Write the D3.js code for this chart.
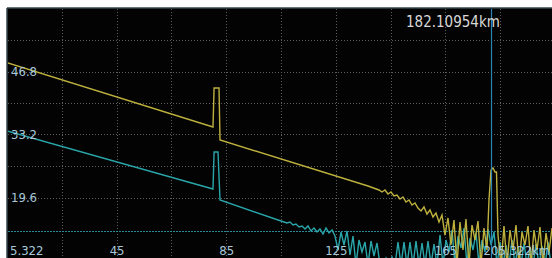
<!DOCTYPE html>
<html>
<head>
<meta charset="utf-8">
<script src="https://cdn.jsdelivr.net/npm/d3@7"></script>
<style>
  body { margin: 0; background: #fff; overflow: hidden; }
  text { font-family: "DejaVu Sans Condensed", "DejaVu Sans", sans-serif; }
</style>
</head>
<body>
<svg id="chart" width="552" height="258"></svg>
<script>
/// DATA (km on x, dB on y)
var xStartKm = 5.322, xEndKm = 205.322, gridStepKm = 20;
var yTopDb = 60.4, yBottomDb = 6.0, gridStepDb = 6.8;
var yTickLabels = [46.8, 33.2, 19.6];
var xTickLabels = [45.322, 85.322, 125.322, 165.322];
var cursorKm = 182.10954;
var cursorText = "182.10954km";
var thresholdDb = 12.37;

// yellow trace: clean part, far-end noise, end reflection, tail noise
var yellowLine = [[5.322, 48.7], [80.5, 34.82], [80.9, 43.24], [82.7, 43.24], [83.06, 32.01], [137.07, 22.08]];
var yellowNoiseStart = 141.08, noiseStep = 1.095;
var yellowNoise = [21.22, 20.79, 21.22, 20.36, 20.79, 19.92, 20.14, 19.28, 19.71, 18.63, 19.06, 17.98, 18.41,
  17.33, 16.69, 17.55, 16.04, 16.90, 15.39, 16.26, 14.31, 15.82, 11.50, 15.18, 9.35, 14.74, 5.0, 14.31,
  8.27, 14.96, 5.0, 13.66, 10.43, 14.53, 5.0, 13.02, 8.27];
var yellowReflection = [[181.23, 19.06], [181.96, 25.53], [182.69, 25.97], [183.42, 25.10], [183.97, 25.10], [184.52, 11.50]];
var yellowTailStart = 185.61;
var yellowTail = [5.0, 13.45, 5.0, 12.58, 8.27, 13.66, 5.0, 12.15, 9.35, 13.45, 5.0, 12.58, 8.27, 13.23, 5.0, 11.94, 7.83, 13.02];

// teal trace: clean part then noise
var tealLine = [[5.322, 33.96], [80.5, 21.44], [80.9, 29.42], [82.33, 29.42], [83.06, 19.06]];
var tealNoiseStart = 105.32;
var tealNoise = [14.53, 14.31, 14.10, 14.31, 13.66, 13.88, 13.23, 13.45, 12.80, 13.45, 12.37, 13.02, 12.15,
  12.80, 11.72, 13.02, 11.94, 12.58, 11.29, 8.27, 12.15, 9.35, 12.37, 7.19, 11.29, 5.0, 10.43, 7.83, 9.99,
  5.0, 10.21, 6.97, 9.78, 5.0, 5.0, 6.54, 5.0, 6.75, 5.0, 9.99, 5.0, 9.99, 5.0, 9.99, 5.0, 10.21, 5.0, 9.78,
  5.0, 10.21, 5.0, 9.56, 5.0, 11.50, 5.0, 10.43, 7.83, 12.58, 5.0, 11.29, 8.70, 13.02, 5.0, 10.86, 8.27,
  11.94, 5.0, 10.43, 7.83, 12.80, 9.35, 12.15, 5.0, 9.99, 5.0, 9.35, 5.0, 10.43, 5.0, 9.13, 5.0, 9.78, 5.0,
  8.92, 5.0, 9.56, 5.0, 9.13, 5.0, 9.99, 5.0];

// SCALES
var svg = d3.select("#chart");
var x = d3.scaleLinear().domain([xStartKm, xEndKm]).range([7, 555]);
var y = d3.scaleLinear().domain([yBottomDb, yTopDb]).range([260.5, 8.5]);

function sampled(start, vals) {
  return vals.map(function(v, i) { return [start + i * noiseStep, v]; });
}
var yellowData = yellowLine.concat(sampled(yellowNoiseStart, yellowNoise), yellowReflection, sampled(yellowTailStart, yellowTail));
var tealData = tealLine.concat(sampled(tealNoiseStart, tealNoise));

// SCREEN
svg.append("rect").attr("x", 7).attr("y", 8).attr("width", 560).attr("height", 260).attr("fill", "#030303");
svg.append("line").attr("x1", 7).attr("x2", 552).attr("y1", 8).attr("y2", 8).attr("stroke", "#34464e").attr("stroke-width", 1.5);
svg.append("line").attr("x1", 7).attr("x2", 7).attr("y1", 8).attr("y2", 258).attr("stroke", "#34464e").attr("stroke-width", 1.5);

svg.append("clipPath").attr("id", "plotclip")
  .append("rect").attr("x", 8).attr("y", 9).attr("width", 560).attr("height", 260);

// dotted grid
var grid = svg.append("g").attr("stroke", "#5e5e5e").attr("stroke-dasharray", "1,2");
grid.selectAll(".vg").data(d3.range(1, 10)).enter().append("line")
  .attr("x1", function(k) { return Math.round(x(xStartKm + k * gridStepKm)) + 0.5; })
  .attr("x2", function(k) { return Math.round(x(xStartKm + k * gridStepKm)) + 0.5; })
  .attr("y1", 9).attr("y2", 258);
grid.selectAll(".hg").data(d3.range(1, 7)).enter().append("line")
  .attr("y1", function(k) { return Math.round(y(yTopDb - k * gridStepDb)) + 0.5; })
  .attr("y2", function(k) { return Math.round(y(yTopDb - k * gridStepDb)) + 0.5; })
  .attr("x1", 8).attr("x2", 552);

// threshold marker
svg.append("line")
  .attr("x1", 8).attr("x2", 552)
  .attr("y1", Math.round(y(thresholdDb)) + 0.5).attr("y2", Math.round(y(thresholdDb)) + 0.5)
  .attr("stroke", "#2b8898").attr("stroke-dasharray", "2,1");

// traces
var line = d3.line().x(function(d) { return x(d[0]); }).y(function(d) { return y(d[1]); });
var traces = svg.append("g").attr("clip-path", "url(#plotclip)").attr("fill", "none").attr("stroke-width", 1.4);
traces.append("path").datum(tealData).attr("d", line).attr("stroke", "#2aa6aa");
traces.append("path").datum(yellowData).attr("d", line).attr("stroke", "#beb13e");

// cursor
svg.append("line")
  .attr("x1", Math.round(x(cursorKm)) + 0.5).attr("x2", Math.round(x(cursorKm)) + 0.5)
  .attr("y1", 9).attr("y2", 258)
  .attr("stroke", "#2a84b6").attr("stroke-width", 1.2);

svg.append("text").attr("x", 406).attr("y", 27)
  .attr("font-size", 15).attr("fill", "#d8d8d8")
  .text(cursorText);

// AXES
var labelColor = "#a8c8da";
var yAxis = d3.axisRight(y).tickValues(yTickLabels).tickSize(0).tickPadding(0).tickFormat(d3.format(".1f"));
var gy = svg.append("g").attr("transform", "translate(11,0)").call(yAxis);
var xAxis = d3.axisBottom(x).tickValues(xTickLabels).tickSize(0).tickPadding(0).tickFormat(function(d) { return Math.floor(d); });
var gx = svg.append("g").attr("transform", "translate(0,246)").call(xAxis);
[gy, gx].forEach(function(g) {
  g.select(".domain").remove();
  g.selectAll("text").attr("fill", labelColor).attr("font-size", 13)
    .attr("font-family", "\"DejaVu Sans Condensed\", \"DejaVu Sans\", sans-serif");
});
gx.append("text").attr("x", 10).attr("dy", "0.71em").attr("text-anchor", "start")
  .attr("fill", labelColor).attr("font-size", 13).text(xStartKm.toFixed(3));
gx.append("text").attr("x", 550).attr("dy", "0.71em").attr("text-anchor", "end")
  .attr("fill", labelColor).attr("font-size", 13).text(xEndKm.toFixed(3) + "km");
</script>
</body>
</html>
